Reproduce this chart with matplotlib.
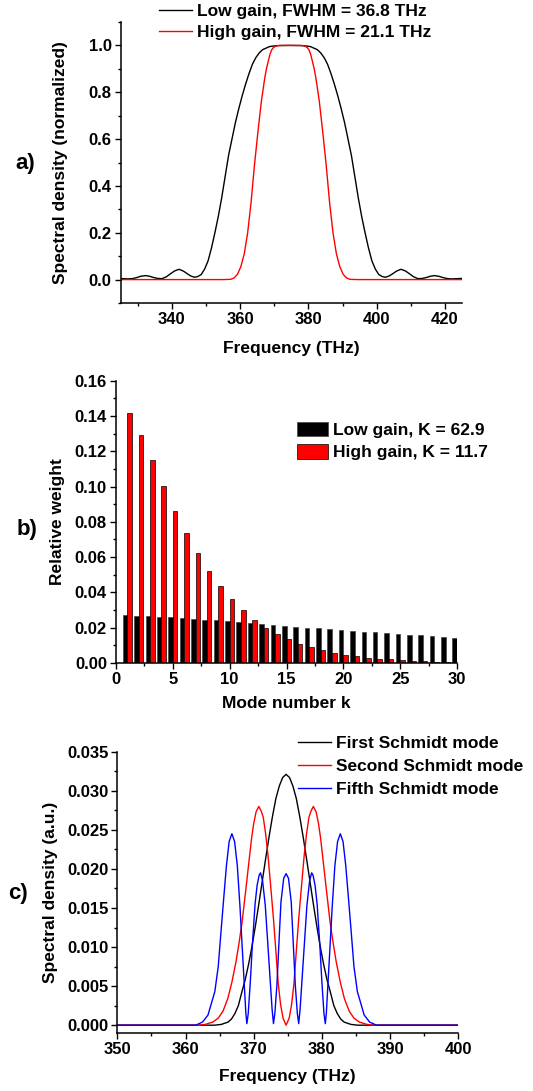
import numpy as np
import matplotlib
matplotlib.use("Agg")
import matplotlib.pyplot as plt
from matplotlib.ticker import MultipleLocator, FormatStrFormatter

plt.rcParams['font.family'] = ['Liberation Sans', 'DejaVu Sans']
plt.rcParams['font.weight'] = 'bold'
plt.rcParams['axes.labelweight'] = 'bold'

# ---- panel a: normalized spectra ----
freq_low = [324.1, 325.6, 327.1, 328.4, 329.6, 330.8, 332.3, 333.5, 334.6, 335.8, 337.1, 338.4,
            339.6, 340.8, 342.1, 343.4, 344.6, 345.6, 346.6, 347.6, 348.6, 349.6, 350.6, 351.6,
            352.6, 353.6, 354.6, 355.6, 356.6, 357.6, 358.6, 359.6, 360.6, 361.6, 362.6, 363.6,
            364.6, 365.6, 366.6, 368.6, 370.6, 374.6, 378.6, 380.6, 382.6, 383.6, 384.6, 385.6,
            386.6, 387.6, 388.6, 389.6, 390.6, 391.6, 392.6, 393.6,
            394.6, 395.6, 396.6, 397.6, 398.6, 399.6, 400.6, 401.6, 402.6, 403.6, 404.6, 405.8,
            407.1, 408.4, 409.6, 410.8, 412.1, 413.4, 414.6, 415.7, 416.9, 418.2, 419.6, 420.8,
            422.1, 423.6, 425.1]
dens_low = [0.005, 0.004, 0.003, 0.004, 0.008, 0.014, 0.017, 0.014, 0.009, 0.005, 0.004, 0.012,
            0.025, 0.037, 0.044, 0.036, 0.024, 0.015, 0.010, 0.013, 0.022, 0.045, 0.080, 0.135,
            0.200, 0.270, 0.350, 0.440, 0.530, 0.600, 0.670, 0.730, 0.785, 0.835, 0.880, 0.920,
            0.948, 0.968, 0.982, 0.995, 0.999, 1.000, 0.999, 0.995, 0.982, 0.968, 0.948, 0.920,
            0.880, 0.835, 0.785, 0.730, 0.670, 0.600, 0.530, 0.440,
            0.350, 0.270, 0.200, 0.135, 0.080, 0.045, 0.022, 0.013, 0.010, 0.015, 0.024, 0.036,
            0.044, 0.037, 0.025, 0.012, 0.004, 0.005, 0.009, 0.014, 0.017, 0.014, 0.008, 0.004,
            0.003, 0.004, 0.005]

freq_high = [325.0, 355.0, 357.2, 358.2, 359.2, 360.2, 361.2, 362.2, 363.2, 364.2, 365.2, 366.2,
             367.2, 367.7, 368.2, 368.7, 369.2, 369.7, 370.2, 370.7, 371.7, 374.7, 377.7, 378.7,
             379.2, 379.7, 380.2, 380.7, 381.2, 381.7, 382.2, 383.2,
             384.2, 385.2, 386.2, 387.2, 388.2, 389.2, 390.2, 391.2, 392.2, 394.4, 425.0]
dens_high = [0.0, 0.0, 0.001, 0.007, 0.022, 0.055, 0.110, 0.200, 0.330, 0.490, 0.630, 0.760,
             0.860, 0.900, 0.930, 0.960, 0.980, 0.990, 0.995, 0.998, 1.000, 1.000, 1.000, 0.998,
             0.995, 0.990, 0.980, 0.960, 0.930, 0.900, 0.860, 0.760,
             0.630, 0.490, 0.330, 0.200, 0.110, 0.055, 0.022, 0.007, 0.001, 0.0, 0.0]

# ---- panel b: Schmidt weights ----
mode_k = list(range(1, 31))
weight_low = [0.0270, 0.0268, 0.0264, 0.0262, 0.0258, 0.0253, 0.0249, 0.0245, 0.0241, 0.0236,
              0.0230, 0.0226, 0.0221, 0.0215, 0.0211, 0.0206, 0.0200, 0.0196, 0.0192, 0.0187,
              0.0181, 0.0177, 0.0174, 0.0170, 0.0164, 0.0160, 0.0157, 0.0151, 0.0147, 0.0142]
weight_high = [0.1415, 0.1294, 0.1149, 0.1002, 0.0864, 0.0736, 0.0623, 0.0523, 0.0436, 0.0362,
               0.0298, 0.0243, 0.0200, 0.0164, 0.0134, 0.0108, 0.0089, 0.0072, 0.0057, 0.0047,
               0.0038, 0.0030, 0.0025, 0.0020, 0.0016, 0.0013, 0.0010, 0.0008, 0.0007, 0.0005]

# ---- panel c: Schmidt modes ----
freq_m1 = [350.0, 364.25, 365.25, 366.25, 366.75, 367.25, 367.75, 368.25, 368.75, 369.25,
           369.75, 370.25, 370.75, 371.25, 371.75, 372.25, 372.75, 373.25, 373.75, 374.25,
           374.75, 375.25, 375.75, 376.25, 376.75, 377.25, 377.75, 378.25, 378.75, 379.25,
           379.75, 380.25, 380.75, 381.25, 381.75, 382.25, 382.75, 383.25, 384.25, 385.25, 400.0]
dens_m1 = [0.0, 0.0, 0.0001, 0.0004, 0.0008, 0.0015, 0.0025, 0.0042, 0.0058, 0.0078,
           0.0101, 0.0127, 0.0155, 0.0184, 0.0213, 0.0241, 0.0267, 0.0290, 0.0306, 0.0317,
           0.0321, 0.0317, 0.0306, 0.0290, 0.0267, 0.0241, 0.0213, 0.0184, 0.0155, 0.0127,
           0.0101, 0.0078, 0.0058, 0.0042, 0.0025, 0.0015, 0.0008, 0.0004, 0.0001, 0.0, 0.0]

freq_m2 = [350.0, 362.0, 362.9, 364.0, 364.8, 365.5, 366.2, 366.8, 367.4, 367.9, 368.3, 368.8,
           369.3, 369.7, 370.0, 370.35, 370.75, 371.1, 371.4, 371.75, 372.1, 372.5, 372.9,
           373.25, 373.6, 373.95, 374.3, 374.75, 375.2, 375.55, 375.9, 376.25, 376.6, 377.0,
           377.4, 377.75, 378.1, 378.4, 378.75, 379.15, 379.5, 379.8, 380.2, 380.7, 381.2,
           381.6, 382.1, 382.7, 383.3, 384.0, 384.7, 385.5, 386.6, 387.5, 400.0]
dens_m2 = [0.0, 0.0, 0.0001, 0.0004, 0.0009, 0.0018, 0.0034, 0.0055, 0.0081, 0.0108, 0.0132,
           0.0170, 0.0209, 0.0240, 0.0258, 0.0273, 0.0280, 0.0274, 0.0266, 0.0245, 0.0217,
           0.0177, 0.0136, 0.0095, 0.0053, 0.0026, 0.0009, 0.0, 0.0009, 0.0026, 0.0053, 0.0095,
           0.0136, 0.0177, 0.0217, 0.0245, 0.0266, 0.0274, 0.0280, 0.0273, 0.0258, 0.0240,
           0.0209, 0.0170, 0.0132, 0.0108, 0.0081, 0.0055, 0.0034, 0.0018, 0.0009, 0.0004,
           0.0001, 0.0, 0.0]

freq_m5 = [350.0, 361.5, 362.5, 363.3, 364.3, 364.8, 365.2, 365.6, 366.0, 366.4, 366.8, 367.2,
           367.6, 368.0, 368.3, 368.6, 368.85, 369.0, 369.2, 369.5, 369.8, 370.2, 370.5, 370.8,
           371.0, 371.3, 371.7, 372.1, 372.4, 372.7, 372.9, 373.1, 373.4, 373.7, 374.0, 374.4,
           374.75, 375.1, 375.5, 375.8, 376.1, 376.4, 376.6, 376.8, 377.1, 377.4, 377.8, 378.2,
           378.5, 378.7, 379.0, 379.3, 379.7, 380.0, 380.3, 380.5, 380.65, 380.9, 381.2, 381.5,
           381.9, 382.3, 382.7, 383.1, 383.5, 383.9, 384.3, 384.7, 385.2, 386.2, 387.0, 388.0,
           400.0]
dens_m5 = [0.0, 0.0, 0.0004, 0.0013, 0.0043, 0.0075, 0.0119, 0.0162, 0.0204, 0.0235, 0.0245,
           0.0235, 0.0204, 0.0150, 0.0102, 0.0055, 0.0015, 0.0002, 0.0015, 0.0055, 0.0102,
           0.0155, 0.0179, 0.0192, 0.0195, 0.0185, 0.0153, 0.0100, 0.0060, 0.0020, 0.0002,
           0.0015, 0.0051, 0.0105, 0.0158, 0.0188, 0.0194, 0.0188, 0.0158, 0.0105, 0.0051,
           0.0015, 0.0002, 0.0020, 0.0060, 0.0100, 0.0153, 0.0185, 0.0195, 0.0192, 0.0179,
           0.0155, 0.0102, 0.0055, 0.0015, 0.0002, 0.0015, 0.0055, 0.0102, 0.0150, 0.0204,
           0.0235, 0.0245, 0.0235, 0.0204, 0.0162, 0.0119, 0.0075, 0.0043, 0.0013, 0.0004,
           0.0, 0.0]

W, H = 533, 1091
fig = plt.figure(figsize=(W / 100, H / 100), dpi=100)

TICK_FS = 12
LABEL_FS = 12.5
LEG_FS = 12.5


def px_axes(left, top, right, bottom):
    return fig.add_axes([left / W, 1 - bottom / H, (right - left) / W, (bottom - top) / H])


def fig_xy(x, y):
    return (x / W, 1 - y / H)


def style(ax):
    for s in ['top', 'right']:
        ax.spines[s].set_visible(False)
    for s in ['left', 'bottom']:
        ax.spines[s].set_linewidth(1.1)
    ax.tick_params(which='major', direction='out', length=4.5, width=1.0, labelsize=TICK_FS, pad=2)
    ax.tick_params(which='minor', direction='out', length=2.5, width=1.0)


def legend(ax, x, y, **kw):
    ax.legend(loc='center left', bbox_to_anchor=fig_xy(x, y), bbox_transform=fig.transFigure,
              frameon=False, fontsize=LEG_FS, borderpad=0, borderaxespad=0,
              handletextpad=0.3, **kw)


# a)
ax1 = px_axes(120.7, 22, 462, 303)
ax1.plot(freq_low, dens_low, color='black', lw=1.0, label='Low gain, FWHM = 36.8 THz')
ax1.plot(freq_high, dens_high, color='red', lw=1.0, label='High gain, FWHM = 21.1 THz')
ax1.set_xlim(325, 425)
ax1.set_ylim(-0.1, 1.1)
ax1.xaxis.set_major_locator(MultipleLocator(20))
ax1.xaxis.set_minor_locator(MultipleLocator(10))
ax1.yaxis.set_minor_locator(MultipleLocator(0.1))
ax1.set_yticks([0, 0.2, 0.4, 0.6, 0.8, 1.0])
ax1.yaxis.set_major_formatter(FormatStrFormatter('%.1f'))
style(ax1)
ax1.set_xlabel('Frequency (THz)', fontsize=LABEL_FS)
ax1.set_ylabel('Spectral density (normalized)', fontsize=LABEL_FS)
ax1.xaxis.set_label_coords(0.5, -0.135)
ax1.yaxis.set_label_coords(-0.154, 0.5)
legend(ax1, 159, 22, handlelength=1.9, labelspacing=0.33)

# b)
ax2 = px_axes(116, 380.7, 457, 663)
kk = np.array(mode_k)
ax2.bar(kk - 0.2, weight_low, width=0.4, color='black', edgecolor='#444444', lw=0.5,
        label='Low gain, K = 62.9')
ax2.bar(kk + 0.2, weight_high, width=0.4, color='red', edgecolor='black', lw=0.5,
        label='High gain, K = 11.7')
ax2.set_xlim(0, 30)
ax2.set_ylim(0, 0.16)
ax2.xaxis.set_major_locator(MultipleLocator(5))
ax2.xaxis.set_minor_locator(MultipleLocator(2.5))
ax2.yaxis.set_major_locator(MultipleLocator(0.02))
ax2.yaxis.set_minor_locator(MultipleLocator(0.01))
ax2.yaxis.set_major_formatter(FormatStrFormatter('%.2f'))
style(ax2)
ax2.set_xlabel('Mode number k', fontsize=LABEL_FS)
ax2.set_ylabel('Relative weight', fontsize=LABEL_FS)
ax2.xaxis.set_label_coords(0.5, -0.117)
ax2.yaxis.set_label_coords(-0.150, 0.5)
legend(ax2, 296.7, 441, handlelength=1.8, handleheight=0.92, labelspacing=0.35)

# c)
ax3 = px_axes(117.3, 751.7, 458.3, 1033)
ax3.plot(freq_m1, dens_m1, color='black', lw=1.0, label='First Schmidt mode')
ax3.plot(freq_m2, dens_m2, color='red', lw=1.0, label='Second Schmidt mode')
ax3.plot(freq_m5, dens_m5, color='blue', lw=1.0, label='Fifth Schmidt mode')
ax3.set_xlim(350, 400)
ax3.set_ylim(-0.001, 0.035)
ax3.xaxis.set_major_locator(MultipleLocator(10))
ax3.xaxis.set_minor_locator(MultipleLocator(5))
ax3.yaxis.set_major_locator(MultipleLocator(0.005))
ax3.yaxis.set_minor_locator(MultipleLocator(0.0025))
ax3.yaxis.set_major_formatter(FormatStrFormatter('%.3f'))
style(ax3)
ax3.set_xlabel('Frequency (THz)', fontsize=LABEL_FS)
ax3.set_ylabel('Spectral density (a.u.)', fontsize=LABEL_FS)
ax3.xaxis.set_label_coords(0.5, -0.128)
ax3.yaxis.set_label_coords(-0.174, 0.5)
legend(ax3, 298, 766.7, handlelength=1.9, labelspacing=0.45)

fig.text(*fig_xy(25, 163), 'a)', fontsize=16, fontweight='bold', ha='center', va='center')
fig.text(*fig_xy(27, 530), 'b)', fontsize=16, fontweight='bold', ha='center', va='center')
fig.text(*fig_xy(18, 893), 'c)', fontsize=16, fontweight='bold', ha='center', va='center')

fig.savefig('out.png', dpi=100)
